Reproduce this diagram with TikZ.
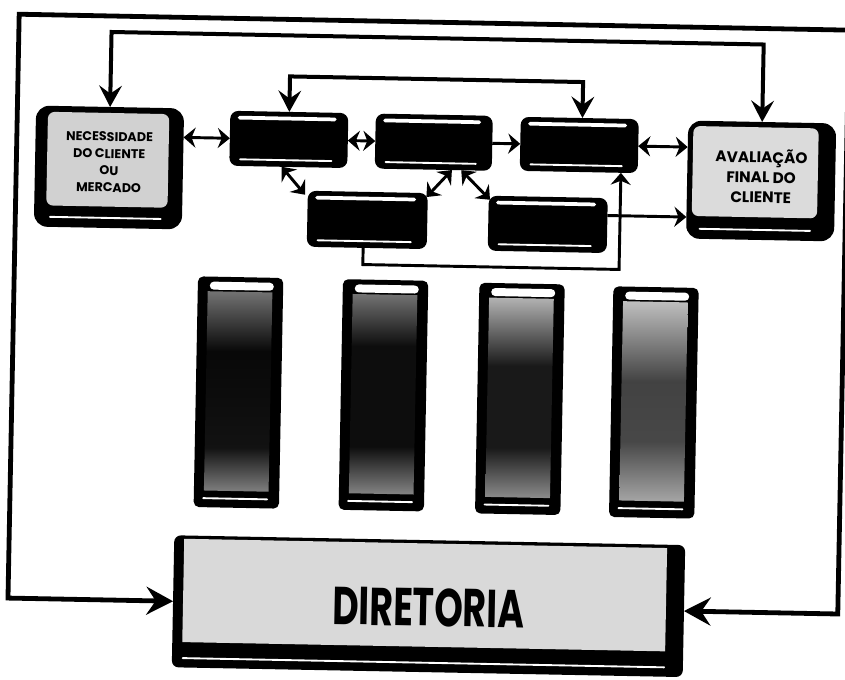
\documentclass[tikz,border=0pt]{standalone}
\usepackage{fontspec}
\setmainfont{Poppins}
\usetikzlibrary{arrows.meta}
\pgfdeclareverticalshading{pilA}{100bp}{color(0bp)=(black!50); color(25bp)=(black!50); color(36bp)=(black!93); color(60bp)=(black!97); color(75bp)=(black!55); color(100bp)=(black!55)}
\pgfdeclareverticalshading{pilB}{100bp}{color(0bp)=(black!48); color(25bp)=(black!48); color(37bp)=(black!95); color(62bp)=(black!95); color(75bp)=(black!55); color(100bp)=(black!55)}
\pgfdeclareverticalshading{pilC}{100bp}{color(0bp)=(black!45); color(25bp)=(black!45); color(37.5bp)=(black!90); color(58bp)=(black!90); color(75bp)=(black!30); color(100bp)=(black!30)}
\pgfdeclareverticalshading{pilD}{100bp}{color(0bp)=(black!35); color(25bp)=(black!35); color(40bp)=(black!72); color(55bp)=(black!74); color(75bp)=(black!25); color(100bp)=(black!25)}
\begin{document}
\begin{tikzpicture}[x=0.75pt,y=-0.75pt,
  darkbox/.style={rectangle, fill=black, rounded corners=6pt, inner sep=0pt, outer sep=0pt},
  lightbox/.style={rectangle, fill=black, rounded corners=10pt, inner sep=0pt, outer sep=0pt},
  pillar/.style={rectangle, fill=black, rounded corners=4pt, inner sep=0pt, outer sep=0pt, minimum width=64pt, minimum height=173pt},
  hl/.style={white, line width=2.8pt, line cap=round},
  hlthin/.style={white, line width=1.4pt, line cap=round},
  capbar/.style={white, line width=6pt, line cap=round},
  frameline/.style={line width=3.6pt},
  loopline/.style={line width=3pt},
  conn/.style={line width=2.2pt},
  boxtext/.style={font=\bfseries, align=center, inner sep=0pt},
  BgTip/.tip={Stealth[length=20pt,width=21pt,inset=7pt]},
  MdTip/.tip={Stealth[length=16pt,width=17pt,inset=6pt]},
  SmTip/.tip={Stealth[length=9pt,width=15pt,inset=3pt]}
]
\fill[white] (0,0) rectangle (845,679);
\useasboundingbox (0,0) rectangle (845,679);
\clip (0,0) rectangle (845,679);
\begin{scope}[rotate around={-1.1:(422,340)}, transform shape]
% light boxes
\node[lightbox, minimum width=111pt, minimum height=90.75pt] (NEC) at (105.7,173.5) {};
\fill[black!18, rounded corners=5pt] ([xshift=9pt,yshift=-4.5pt]NEC.north west) rectangle ([xshift=-11pt,yshift=16pt]NEC.south east);
\draw[hlthin] ([xshift=12pt,yshift=7.5pt]NEC.south west) -- ([xshift=-16pt,yshift=7.5pt]NEC.south east);
\node[boxtext, font=\fontsize{9.5}{12.75}\selectfont\bfseries] (NECt) at ([yshift=4pt]NEC.center) {NECESSIDADE\\DO CLIENTE\\OU\\MERCADO};

\node[lightbox, minimum width=111pt, minimum height=88.5pt] (AVAL) at (758,174.5) {};
\fill[black!14, rounded corners=5pt] ([xshift=4pt,yshift=-4pt]AVAL.north west) rectangle ([xshift=-13pt,yshift=17pt]AVAL.south east);
\draw[hlthin] ([xshift=10pt,yshift=7.5pt]AVAL.south west) -- ([xshift=-18pt,yshift=7.5pt]AVAL.south east);
\node[boxtext, font=\fontsize{11.5}{15}\selectfont\bfseries] (AVALt) at ([yshift=3.75pt]AVAL.center) {AVALIAÇÃO\\FINAL DO\\CLIENTE};

% dark boxes
\node[darkbox, minimum width=88.5pt, minimum height=41.25pt] (A) at (285,142) {};
\node[darkbox, minimum width=87.75pt, minimum height=41.25pt] (B) at (430,142) {};
\node[darkbox, minimum width=88.5pt, minimum height=40.5pt] (C) at (575.5,142) {};
\node[darkbox, minimum width=90pt, minimum height=42pt] (D) at (365,221) {};
\node[darkbox, minimum width=89.25pt, minimum height=41.25pt] (E) at (545.5,222) {};
\foreach \n in {A,B,C,D,E}{
  \draw[hl] ([xshift=7pt,yshift=-5pt]\n.north west) -- ([xshift=-10pt,yshift=-5pt]\n.north east);
  \draw[hlthin] ([xshift=8pt,yshift=5pt]\n.south west) -- ([xshift=-12pt,yshift=5pt]\n.south east);
}

% pillars
\node[pillar] (P1) at (239.5,396) {};
\node[pillar] (P2) at (384.5,396) {};
\node[pillar] (P3) at (521,397) {};
\node[pillar] (P4) at (655,398) {};
\shade[shading=pilA] ([xshift=7.5pt,yshift=-11pt]P1.north west) rectangle ([xshift=-8pt,yshift=12.5pt]P1.south east);
\shade[shading=pilB] ([xshift=7.5pt,yshift=-11pt]P2.north west) rectangle ([xshift=-8pt,yshift=12.5pt]P2.south east);
\shade[shading=pilC] ([xshift=7.5pt,yshift=-11pt]P3.north west) rectangle ([xshift=-8pt,yshift=12.5pt]P3.south east);
\shade[shading=pilD] ([xshift=7.5pt,yshift=-11pt]P4.north west) rectangle ([xshift=-8pt,yshift=12.5pt]P4.south east);
\foreach \n in {P1,P2,P3,P4}{
  \draw[capbar] ([xshift=12pt,yshift=-6.75pt]\n.north west) -- ([xshift=-10pt,yshift=-6.75pt]\n.north east);
  \draw[hlthin] ([xshift=7pt,yshift=6.75pt]\n.south west) -- ([xshift=-9pt,yshift=6.75pt]\n.south east);
}

% DIRETORIA
\node[lightbox, rounded corners=5pt, minimum width=383.25pt, minimum height=99pt] (DIR) at (433.6,606) {};
\fill[black!15] ([xshift=7.5pt,yshift=-2.5pt]DIR.north west) rectangle ([xshift=-13.5pt,yshift=19pt]DIR.south east);
\draw[hlthin] ([xshift=8pt,yshift=7pt]DIR.south west) -- ([xshift=-14pt,yshift=7pt]DIR.south east);
\node[boxtext] (DIRt) at ([yshift=-1pt]DIR.center) {\scalebox{0.68}[1]{\fontsize{40}{40}\selectfont\bfseries DIRETORIA}};

% coordinates
\coordinate (l1) at (0,38);
\coordinate (l2) at (0,79);
\coordinate (TL) at (13,22);
\coordinate (TR) at (843,22);
\coordinate (dlo) at (361.4,265.7);
\coordinate (cbx) at (617.7,0);
\coordinate (e1) at ([yshift=7.5pt]E.east);

% connectors
\draw[frameline, {BgTip}-{BgTip}] (DIR.west) -| (TL) -- (TR) |- (DIR.east);
\draw[loopline, {MdTip}-{MdTip}] (NEC.north) -- (NEC.north |- l1) -| (AVAL.north);
\draw[loopline, {MdTip}-{MdTip}] (A.north) -- (A.north |- l2) -| ([xshift=2pt]C.north);
\draw[conn, {SmTip}-{SmTip}] (NEC.east |- A.west) -- (A.west);
\draw[conn, {SmTip}-{SmTip}] (A.east) -- (B.west);
\draw[conn, -{SmTip}] (B.east) -- (C.west);
\draw[conn, {SmTip}-{SmTip}] (C.east) -- (C.east -| AVAL.west);
\draw[conn, {SmTip}-{SmTip}] ([xshift=-5pt]A.south) -- ([xshift=-2pt,yshift=-3pt]D.north west);
\draw[conn, {SmTip}-{SmTip}] ([xshift=-1pt,yshift=-3pt]D.north east) -- ([xshift=14pt]B.south);
\draw[conn, {SmTip}-{SmTip}] ([xshift=21pt]B.south) -- ([xshift=1pt,yshift=-3pt]E.north west);
\draw[conn, -{SmTip}] (e1) -- (e1 -| AVAL.west);
\draw[conn, -{SmTip}] (D.south -| dlo) -- (dlo) -| (C.south -| cbx);
\end{scope}
\end{tikzpicture}
\end{document}
